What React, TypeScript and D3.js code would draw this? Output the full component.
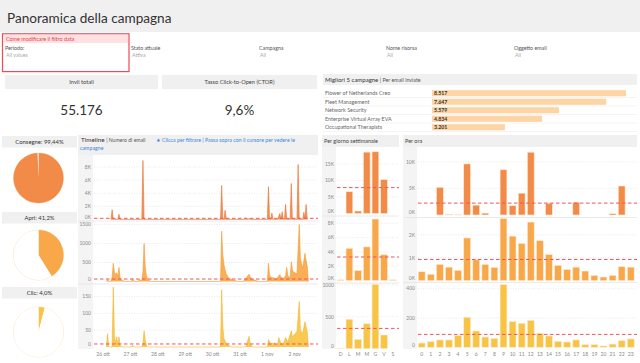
import React from "react";
import * as d3 from "d3";

// ---------------- DATA ----------------
const TITLE = "Panoramica della campagna";
const FILTER_LABELS = ["Stato attuale", "Campagna", "Nome risorsa", "Oggetto email"];
const FILTER_VALUES = ["Attiva", "All", "All", "All"];

const KPI_LABELS = ["Invii totali", "Tasso Click-to-Open (CTOR)"];
const KPI_VALUES = ["55.176", "9,6%"];

const TOP_CAMPAIGNS = [
  "Flower of Netherlands Creo",
  "Fleet Management",
  "Network Security",
  "Enterprise Virtual Array EVA",
  "Occupational Therapists",
];
const TOP_SENDS = [8517, 7647, 5579, 4834, 3201];

const PIE_LABELS = ["Consegne: 99,44%", "Apri: 41,2%", "Clic: 4,0%"];
const PIE_RATES = [0.9944, 0.412, 0.04];

const WEEKDAYS = ["D", "L", "M", "M", "G", "V", "S"];
const WEEKDAY_SENDS = [0, 6600, 750, 18600, 18700, 10300, 0];
const WEEKDAY_OPENS = [100, 4500, 1400, 4700, 8600, 3600, 100];
const WEEKDAY_CLICKS = [5, 460, 147, 390, 1006, 214, 0];

const HOURS = ["0", "1", "2", "3", "4", "5", "6", "7", "8", "9", "10", "11", "12", "13", "14", "15", "16", "17", "18", "19", "20", "21", "22", "23"];
const HOURLY_SENDS = [0, 0, 5200, 150, 50, 9600, 1850, 350, 0, 8500, 1750, 4100, 11800, 0, 2200, 0, 0, 2400, 0, 0, 0, 250, 5450, 0];
const HOURLY_OPENS = [390, 280, 710, 590, 450, 1860, 910, 710, 580, 2700, 1940, 1620, 2550, 1740, 1140, 670, 490, 590, 420, 230, 160, 230, 610, 590];
const HOURLY_CLICKS = [29, 38, 50, 50, 79, 205, 111, 70, 61, 427, 175, 164, 184, 95, 77, 41, 36, 50, 18, 18, 9, 22, 45, 57];

const TIMELINE_SENDS: [string, number][] = [
  ["10-26 07", 0], ["10-26 08", 1500], ["10-26 09", 0],
  ["10-26 13", 0], ["10-26 14", 800], ["10-26 15", 0],
  ["10-27 10", 0], ["10-27 11", 9000], ["10-27 12", 0],
  ["10-30 07", 0], ["10-30 08", 5200], ["10-30 09", 0],
  ["10-30 10", 0], ["10-30 11", 1400], ["10-30 12", 0],
  ["10-31 04", 0], ["10-31 05", 250], ["10-31 06", 0],
  ["10-31 07", 0], ["10-31 08", 200], ["10-31 09", 0],
  ["11-01 00", 0], ["11-01 01", 5000], ["11-01 02", 0],
  ["11-01 03", 0], ["11-01 04", 1000], ["11-01 05", 0],
  ["11-01 09", 0], ["11-01 10", 500], ["11-01 11", 900], ["11-01 12", 0],
  ["11-01 13", 1200], ["11-01 14", 0],
  ["11-01 15", 0], ["11-01 16", 2300], ["11-01 17", 0],
  ["11-01 20", 0], ["11-01 21", 5500], ["11-01 22", 0],
  ["11-02 02", 0], ["11-02 03", 8400], ["11-02 04", 0],
  ["11-02 07", 0], ["11-02 08", 1100], ["11-02 09", 200], ["11-02 10", 2300], ["11-02 11", 0],
];
const TIMELINE_OPENS: [string, number][] = [
  ["10-26 03", 0], ["10-26 04", 50], ["10-26 05", 10], ["10-26 06", 0], ["10-26 07", 20],
  ["10-26 08", 120], ["10-26 09", 480], ["10-26 10", 250], ["10-26 11", 180], ["10-26 12", 230],
  ["10-26 13", 120], ["10-26 14", 370], ["10-26 15", 100], ["10-26 16", 40], ["10-26 18", 10], ["10-26 20", 0],
  ["10-27 01", 0], ["10-27 02", 80], ["10-27 03", 0],
  ["10-27 07", 0], ["10-27 08", 60], ["10-27 09", 10], ["10-27 10", 30], ["10-27 11", 250],
  ["10-27 12", 1000], ["10-27 13", 400], ["10-27 14", 150], ["10-27 15", 80], ["10-27 16", 30], ["10-27 18", 0],
  ["10-30 07", 0], ["10-30 08", 1320], ["10-30 09", 700], ["10-30 10", 450], ["10-30 11", 300],
  ["10-30 12", 200], ["10-30 14", 100], ["10-30 16", 60], ["10-30 19", 30], ["10-30 22", 0],
  ["10-31 03", 0], ["10-31 04", 50], ["10-31 06", 120], ["10-31 08", 190], ["10-31 09", 120],
  ["10-31 11", 60], ["10-31 15", 10], ["10-31 16", 0],
  ["11-01 00", 0], ["11-01 01", 480], ["11-01 02", 150], ["11-01 04", 100], ["11-01 06", 90],
  ["11-01 08", 60], ["11-01 10", 150], ["11-01 11", 180], ["11-01 12", 110], ["11-01 14", 80],
  ["11-01 16", 150], ["11-01 17", 370], ["11-01 18", 150], ["11-01 20", 100], ["11-01 21", 520],
  ["11-01 22", 300], ["11-01 23", 250], ["11-02 02", 200], ["11-02 04", 1500], ["11-02 05", 600],
  ["11-02 07", 350], ["11-02 09", 740], ["11-02 10", 550], ["11-02 11", 400], ["11-02 12", 0],
];
const TIMELINE_CLICKS: [string, number][] = [
  ["10-26 03", 0], ["10-26 04", 40], ["10-26 05", 0],
  ["10-26 08", 0], ["10-26 09", 178], ["10-26 10", 35], ["10-26 11", 10], ["10-26 12", 30],
  ["10-26 13", 5], ["10-26 14", 30], ["10-26 15", 5], ["10-26 16", 0],
  ["10-27 01", 0], ["10-27 02", 5], ["10-27 03", 0],
  ["10-27 10", 0], ["10-27 11", 10], ["10-27 12", 48], ["10-27 13", 20], ["10-27 14", 5], ["10-27 15", 0],
  ["10-30 07", 0], ["10-30 08", 170], ["10-30 09", 60], ["10-30 10", 25], ["10-30 12", 10],
  ["10-30 14", 5], ["10-30 16", 0],
  ["10-31 05", 0], ["10-31 06", 10], ["10-31 08", 32], ["10-31 09", 10], ["10-31 11", 0],
  ["11-01 00", 0], ["11-01 01", 22], ["11-01 03", 10], ["11-01 06", 12], ["11-01 09", 5],
  ["11-01 10", 28], ["11-01 12", 10], ["11-01 14", 8], ["11-01 16", 28], ["11-01 18", 15],
  ["11-01 21", 48], ["11-01 22", 30], ["11-01 23", 35], ["11-02 02", 45], ["11-02 04", 135],
  ["11-02 05", 50], ["11-02 07", 40], ["11-02 09", 75], ["11-02 10", 60], ["11-02 11", 45], ["11-02 12", 0],
];
const TIMELINE_AVG = [180, 65, 9];
const TIMELINE_START = "10-26 00";
const TIMELINE_END = "11-02 00";
const MONTHS_IT = ["gen", "feb", "mar", "apr", "mag", "giu", "lug", "ago", "set", "ott", "nov", "dic"];

// ---------------- STYLE ----------------
const FONT = "Lato, 'Open Sans', 'DejaVu Sans', sans-serif";
const C_SEND = "#f28a48";
const C_OPEN = "#f9a849";
const C_CLICK = "#f8c443";
const C_SEND_D = "#ea7232";
const C_OPEN_D = "#f39a33";
const C_CLICK_D = "#f2b72e";
const C_REF = "#f2535f";
const HEADER_BG = "#f0f0f0";
const AXIS_BG = "#f4f4f4";
const TICK_C = "#8a8a8a";
const SM = 5.3;

const parse = d3.timeParse("%Y-%m-%d %H");
const toPts = (arr: [string, number][]) => arr.map(([t, v]) => ({ d: parse("2023-" + t) as Date, v }));
const fmtK = (v: number) => `${v / 1000}K`;
const fmtN = (v: number) => `${v}`;

function YTicks({ y, ticks, fmt, xRight, gx0, gx1 }: any) {
  const y0 = y(0);
  return (
    <g>
      {ticks.map((t: number) => (
        <g key={t}>
          {t !== 0 && (
            <line x1={gx0} x2={gx1} y1={y(t)} y2={y(t)} stroke="#dcdcdc" strokeWidth={0.6} strokeDasharray="1,1.5" />
          )}
          <text x={xRight} y={t === 0 ? y0 - 0.6 : y(t) + 1.8} fontSize={5} fill={TICK_C} textAnchor="end">
            {fmt(t)}
          </text>
        </g>
      ))}
    </g>
  );
}

export default function App() {
  // ---------- Top 5 ----------
  const xTop = d3.scaleLinear().domain([0, d3.max(TOP_SENDS) as number]).range([432, 626]);
  const rowTop = d3.scaleBand<number>().domain(d3.range(TOP_SENDS.length)).range([89, 131.5]);

  // ---------- Pies ----------
  const pieGen = d3.pie<number>().sort(null).value((d) => d);
  const arcGen = d3.arc<any>().innerRadius(0).outerRadius(25);
  const pieCenters = [178, 255, 332];
  const pieHeaderY = [136, 212, 287];
  const pieColors = [C_SEND, C_OPEN, C_CLICK];

  // ---------- Timeline ----------
  const xTime = d3
    .scaleTime()
    .domain([parse("2023-" + TIMELINE_START) as Date, parse("2023-" + TIMELINE_END) as Date])
    .range([103, 294.7]);
  const dayTicks = xTime.ticks(d3.timeDay.every(1) as any);
  const tlRows = [
    { data: toPts(TIMELINE_SENDS), y: d3.scaleLinear().domain([0, 9500]).range([219.5, 157.2]), ticks: [0, 2000, 4000, 6000, 8000], fmt: fmtK, c: C_SEND, cd: C_SEND_D, avg: TIMELINE_AVG[0] },
    { data: toPts(TIMELINE_OPENS), y: d3.scaleLinear().domain([0, 1550]).range([281.5, 222.6]), ticks: [0, 500, 1000, 1500], fmt: fmtN, c: C_OPEN, cd: C_OPEN_D, avg: TIMELINE_AVG[1] },
    { data: toPts(TIMELINE_CLICKS), y: d3.scaleLinear().domain([0, 185]).range([347, 284.8]), ticks: [0, 50, 100, 150], fmt: fmtN, c: C_CLICK, cd: C_CLICK_D, avg: TIMELINE_AVG[2] },
  ];

  // ---------- Weekday ----------
  const xWd = d3.scaleBand<number>().domain(d3.range(WEEKDAYS.length)).range([336.4, 397.1]).paddingInner(0.22).paddingOuter(0.11);
  const wdRows = [
    { data: WEEKDAY_SENDS, y: d3.scaleLinear().domain([0, 20000]).range([213.5, 147.5]), ticks: [0, 5000, 10000, 15000], fmt: fmtK, c: C_SEND },
    { data: WEEKDAY_OPENS, y: d3.scaleLinear().domain([0, 9000]).range([280.5, 216.15]), ticks: [0, 2000, 4000, 6000, 8000], fmt: fmtK, c: C_OPEN },
    { data: WEEKDAY_CLICKS, y: d3.scaleLinear().domain([0, 1000]).range([348.7, 284.7]), ticks: [0, 500, 1000], fmt: fmtN, c: C_CLICK },
  ];

  // ---------- Hour ----------
  const xHr = d3.scaleBand<string>().domain(HOURS).range([417.15, 635.3]).paddingInner(0.25).paddingOuter(0.125);
  const hrRows = [
    { data: HOURLY_SENDS, y: d3.scaleLinear().domain([0, 12500]).range([215, 148.5]), ticks: [0, 5000, 10000], fmt: fmtK, c: C_SEND },
    { data: HOURLY_OPENS, y: d3.scaleLinear().domain([0, 2850]).range([280.7, 215.2]), ticks: [0, 1000, 2000], fmt: fmtK, c: C_OPEN },
    { data: HOURLY_CLICKS, y: d3.scaleLinear().domain([0, 440]).range([347.3, 282.8]), ticks: [0, 200, 400], fmt: fmtN, c: C_CLICK },
  ];

  const panelSeps = [221, 284];

  return (
    <div style={{ position: "absolute", left: 0, top: 0 }}>
      <svg width={640} height={363} style={{ display: "block", fontFamily: FONT }}>
        <rect x={0} y={0} width={640} height={32} fill={HEADER_BG} />
        <rect x={0} y={32} width={640} height={331} fill="#ffffff" />

        {/* Title */}
        <text x={7} y={22.5} fontSize={13.6} fill="#333">{TITLE}</text>

        {/* Date filter box */}
        <rect x={2.5} y={33.8} width={126.5} height={37.8} fill="none" stroke="#ef4a55" strokeWidth={1.2} />
        <rect x={3.5} y={34.8} width={124.5} height={8.3} fill="#fde1e3" />
        <text x={6} y={41.2} fontSize={5.4} fill="#e8414c">Come modificare il filtro data</text>
        <text x={5} y={50} fontSize={SM} fill="#555">Periodo:</text>
        <text x={6} y={56.8} fontSize={SM} fill="#aaa">All values</text>

        {FILTER_LABELS.map((l, i) => {
          const fx = [131, 259, 386, 514][i];
          return (
            <g key={l}>
              <text x={fx} y={50} fontSize={SM} fill="#555">{l}</text>
              <text x={fx + 1} y={56.8} fontSize={SM} fill="#aaa">{FILTER_VALUES[i]}</text>
            </g>
          );
        })}

        {/* KPIs */}
        {KPI_LABELS.map((l, i) => {
          const bx = [5, 162][i];
          const bw = [153, 155][i];
          return (
            <g key={l}>
              <rect x={bx} y={75} width={bw} height={14} fill={HEADER_BG} />
              <text x={bx + bw / 2} y={84.3} fontSize={5.7} fill="#444" textAnchor="middle">{l}</text>
              <text x={bx + bw / 2} y={115} fontSize={13.5} fill="#333" textAnchor="middle">{KPI_VALUES[i]}</text>
            </g>
          );
        })}

        {/* Top 5 campaigns */}
        <rect x={323} y={74} width={314} height={11} fill={HEADER_BG} />
        <text x={325} y={81.6} fontSize={6} fill="#333">
          Migliori 5 campagne <tspan fontSize={5.3} fill="#555">| Per email inviate</tspan>
        </text>
        {TOP_CAMPAIGNS.map((name, i) => {
          const ry = rowTop(i) as number;
          const rh = rowTop.bandwidth();
          return (
            <g key={name}>
              <line x1={323} x2={637} y1={ry + rh} y2={ry + rh} stroke="#ececec" strokeWidth={0.6} />
              <text x={325} y={ry + rh / 2 + 1.9} fontSize={5.4} fill="#666">{name}</text>
              <rect x={xTop(0)} y={ry + 1.2} width={xTop(TOP_SENDS[i]) - xTop(0)} height={rh - 2.4} fill="#fdd5a5" />
              <text x={xTop(0) + 2} y={ry + rh / 2 + 1.9} fontSize={5.2} fontWeight="bold" fill="#333">
                {d3.format(",")(TOP_SENDS[i]).replace(/,/g, ".")}
              </text>
            </g>
          );
        })}

        {/* Pies */}
        {PIE_LABELS.map((l, i) => {
          const arcs = pieGen([PIE_RATES[i], 1 - PIE_RATES[i]]);
          return (
            <g key={l}>
              <rect x={2} y={pieHeaderY[i]} width={75} height={11.5} fill={HEADER_BG} />
              <text x={39.5} y={pieHeaderY[i] + 8} fontSize={5.9} fill="#333" textAnchor="middle">{l}</text>
              <g transform={`translate(38.5,${pieCenters[i]})`}>
                <circle r={25} fill="#fff" stroke="#fde0bb" strokeWidth={0.9} />
                <path d={arcGen(arcs[0]) as string} fill={pieColors[i]} />
                <path d={arcGen(arcs[1]) as string} fill="#fff" opacity={i === 0 ? 0.7 : 1} />
              </g>
            </g>
          );
        })}

        {/* Timeline */}
        <rect x={78} y={135} width={240} height={20} fill={HEADER_BG} />
        <text x={81} y={142.3} fontSize={6.3} fill="#333">
          Timeline <tspan fontSize={5.1} fill="#555">| Numero di email</tspan>
        </text>
        <text x={156} y={142.3} fontSize={5.25} fill="#3d86dc">★ Clicca per filtrare | Passa sopra con il cursore per vedere le</text>
        <text x={80} y={150.3} fontSize={5.25} fill="#3d86dc">campagne</text>
        <rect x={78} y={155} width={15} height={194} fill={AXIS_BG} />
        {panelSeps.map((py) => (
          <line key={py} x1={78} x2={318} y1={py} y2={py} stroke="#e4e4e4" strokeWidth={0.8} />
        ))}
        {tlRows.map((r, i) => {
          const area = d3
            .area<{ d: Date; v: number }>()
            .x((p) => xTime(p.d))
            .y0(r.y(0))
            .y1((p) => r.y(p.v));
          const line = d3
            .line<{ d: Date; v: number }>()
            .x((p) => xTime(p.d))
            .y((p) => r.y(p.v));
          return (
            <g key={i}>
              <YTicks y={r.y} ticks={r.ticks} fmt={r.fmt} xRight={91} gx0={94} gx1={317} />
              <path d={area(r.data) as string} fill={r.c} opacity={0.92} />
              <path d={line(r.data) as string} fill="none" stroke={r.cd} strokeWidth={0.6} />
              <line x1={94} x2={318} y1={r.y(r.avg)} y2={r.y(r.avg)} stroke={C_REF} strokeWidth={1} strokeDasharray="3.5,2.5" />
            </g>
          );
        })}
        {dayTicks.map((d) => (
          <text key={+d} x={xTime(d)} y={355.5} fontSize={5.1} fill={TICK_C} textAnchor="middle">
            {`${d.getDate()} ${MONTHS_IT[d.getMonth()]}`}
          </text>
        ))}

        {/* Weekday */}
        <rect x={322} y={135} width={77} height={12} fill={HEADER_BG} />
        <text x={324} y={143.3} fontSize={5.5} fill="#444">Per giorno settimanale</text>
        <rect x={322} y={147} width={14} height={202} fill={AXIS_BG} />
        <line x1={322} x2={399} y1={216} y2={216} stroke="#e4e4e4" strokeWidth={0.8} />
        <line x1={322} x2={399} y1={283} y2={283} stroke="#e4e4e4" strokeWidth={0.8} />
        {wdRows.map((r, i) => {
          const avg = d3.mean(r.data) as number;
          return (
            <g key={i}>
              <YTicks y={r.y} ticks={r.ticks} fmt={r.fmt} xRight={334} gx0={337} gx1={398} />
              {r.data.map((v, j) => (
                <rect key={j} x={xWd(j)} y={r.y(v)} width={xWd.bandwidth()} height={r.y(0) - r.y(v)} fill={r.c} stroke="#fde9d6" strokeWidth={0.6} />
              ))}
              <line x1={337} x2={399} y1={r.y(avg)} y2={r.y(avg)} stroke={C_REF} strokeWidth={1} strokeDasharray="3.5,2.5" />
            </g>
          );
        })}
        {WEEKDAYS.map((w, j) => (
          <text key={j} x={(xWd(j) as number) + xWd.bandwidth() / 2} y={355.5} fontSize={5.1} fill={TICK_C} textAnchor="middle">{w}</text>
        ))}

        {/* Hour */}
        <rect x={403} y={135} width={234} height={12} fill={HEADER_BG} />
        <text x={405} y={143.3} fontSize={5.5} fill="#444">Per ora</text>
        <rect x={403} y={147} width={14} height={202} fill={AXIS_BG} />
        <line x1={403} x2={637} y1={217.5} y2={217.5} stroke="#e4e4e4" strokeWidth={0.8} />
        <line x1={403} x2={637} y1={282.5} y2={282.5} stroke="#e4e4e4" strokeWidth={0.8} />
        {hrRows.map((r, i) => {
          const avg = d3.mean(r.data) as number;
          return (
            <g key={i}>
              <YTicks y={r.y} ticks={r.ticks} fmt={r.fmt} xRight={415} gx0={418} gx1={636} />
              {r.data.map((v, j) => (
                <rect key={j} x={xHr(HOURS[j])} y={r.y(v)} width={xHr.bandwidth()} height={r.y(0) - r.y(v)} fill={r.c} stroke="#fde9d6" strokeWidth={0.6} />
              ))}
              <line x1={418} x2={637} y1={r.y(avg)} y2={r.y(avg)} stroke={C_REF} strokeWidth={1} strokeDasharray="3.5,2.5" />
            </g>
          );
        })}
        {HOURS.map((h) => (
          <text key={h} x={(xHr(h) as number) + xHr.bandwidth() / 2} y={355.5} fontSize={5.1} fill={TICK_C} textAnchor="middle">{h}</text>
        ))}
      </svg>
    </div>
  );
}
